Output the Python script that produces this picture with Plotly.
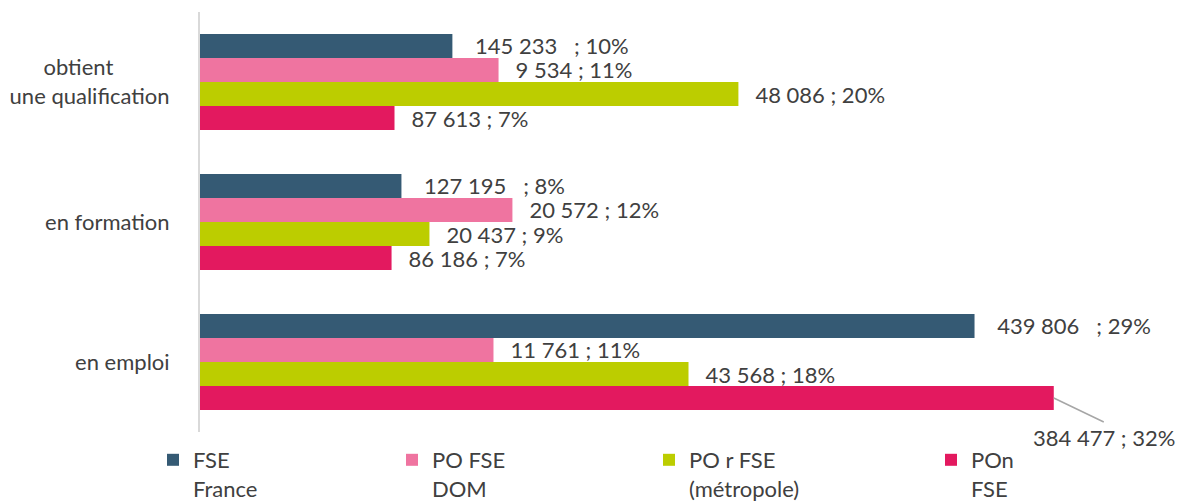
import plotly.graph_objects as go

# ---- data ----
categories = ["obtient une qualification", "en formation", "en emploi"]
category_ticktext = ["obtient" + "\u00a0" * 10 + "<br>une qualification", "en formation", "en emploi"]

series_names = ["FSE France", "PO FSE DOM", "PO r FSE (métropole)", "POn FSE"]
legend_labels = ["FSE<br>France", "PO FSE<br>DOM", "PO r FSE<br>(métropole)", "POn<br>FSE"]
colors = ["#355A74", "#EF74A0", "#BCCD00", "#E3195F"]

# bar lengths (share of participants, %)
fse_france_pct = [9.46, 7.55, 29.03]
po_fse_dom_pct = [11.19, 11.71, 11.00]
po_r_fse_pct = [20.18, 8.60, 18.31]
pon_fse_pct = [7.29, 7.18, 32.00]

# data labels
fse_france_labels = ["145 233   ; 10%", "127 195   ; 8%", "439 806   ; 29%"]
po_fse_dom_labels = ["9 534 ; 11%", "20 572 ; 12%", "11 761 ; 11%"]
po_r_fse_labels = ["48 086 ; 20%", "20 437 ; 9%", "43 568 ; 18%"]
pon_fse_labels = ["87 613 ; 7%", "86 186 ; 7%", "384 477 ; 32%"]

values = [fse_france_pct, po_fse_dom_pct, po_r_fse_pct, pon_fse_pct]
labels = [fse_france_labels, po_fse_dom_labels, po_r_fse_labels, pon_fse_labels]

FONT = "Lato"
TXT = "#404040"
BARGAP = 0.314
SCALE_MAX = 34.52

def fmt(s):
    pad = "\u00a0" * 3 + "\u2009" if "   ;" in s else "\u00a0" * 2 + "\u2009"
    return pad + s.replace(" ", "\u00a0")

fig = go.Figure()
legend_ids = ["legend", "legend2", "legend3", "legend4"]
for i in range(4):
    txt = [fmt(s) for s in labels[i]]
    if i == 3:
        txt[2] = ""  # placed separately with a leader line
    fig.add_trace(go.Bar(
        y=categories, x=values[i], orientation="h",
        name=legend_labels[i], marker=dict(color=colors[i], line=dict(width=0)),
        text=txt, textposition="outside", constraintext="none", cliponaxis=False,
        textfont=dict(family=FONT, size=22, color=TXT),
        legend=legend_ids[i], hoverinfo="skip",
    ))

# leader-line label for the longest bar
barw = (1 - BARGAP) / 4
fig.add_annotation(
    x=pon_fse_pct[2], y=categories.index("en emploi") + 1.5 * barw,
    xref="x", yref="y",
    text=pon_fse_labels[2].replace(" ", "\u00a0"),
    showarrow=True, arrowhead=0, arrowwidth=1.5, arrowcolor="#A6A6A6",
    ax=50, ay=24, xanchor="center", yanchor="top", standoff=0,
    font=dict(family=FONT, size=22, color=TXT),
)

legend_common = dict(
    orientation="h", font=dict(family=FONT, size=22, color=TXT),
    bgcolor="rgba(0,0,0,0)", valign="top",
    xref="container", yref="container", yanchor="top", xanchor="left",
    y=1 - 439 / 502,
)
leg_x = [153, 392, 649, 931]
layout_legends = {}
for lid, lx in zip(legend_ids, leg_x):
    layout_legends[lid] = dict(legend_common, x=lx / 1181)

fig.update_layout(
    width=1181, height=502,
    barmode="group", bargap=BARGAP, bargroupgap=0,
    plot_bgcolor="white", paper_bgcolor="white",
    margin=dict(l=200, r=60, t=12, b=70, autoexpand=False),
    font=dict(family=FONT, size=22, color=TXT),
    showlegend=True,
    xaxis=dict(range=[0, SCALE_MAX], showgrid=False, zeroline=False,
               showticklabels=False, showline=False, fixedrange=True, automargin=False),
    yaxis=dict(type="category", categoryorder="array", categoryarray=categories,
               autorange="reversed", tickvals=categories, ticktext=category_ticktext,
               showline=True, linecolor="#D9D9D9", linewidth=2, ticks="",
               ticklabelstandoff=24, showgrid=False, automargin=False, fixedrange=True,
               tickfont=dict(family=FONT, size=22, color="#404040")),
    **layout_legends,
)

fig.write_html(
    "out.html",
    config={"displayModeBar": False, "staticPlot": False},
    post_script="document.body.style.margin='0';document.body.style.overflow='hidden';",
)
